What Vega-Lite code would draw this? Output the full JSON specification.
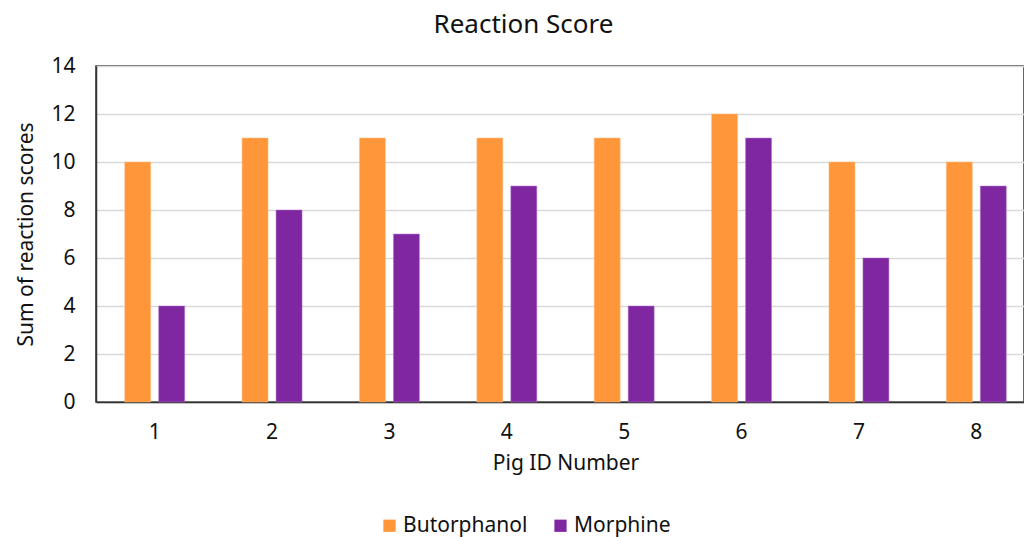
{
  "$schema": "https://vega.github.io/schema/vega-lite/v6.json",
  "width": 928,
  "height": 336,
  "autosize": {"type": "none"},
  "padding": {"left": 96, "top": 66, "right": 0, "bottom": 135},
  "background": "white",
  "config": {
    "font": "Noto Sans",
    "view": {"stroke": "#333333", "strokeWidth": 1.5},
    "axis": {"labelFont": "Noto Sans", "titleFont": "Noto Sans", "labelColor": "#111", "titleColor": "#111", "titleFontWeight": "normal"}
  },
  "title": {"text": "Reaction Score", "fontSize": 26, "fontWeight": "normal", "color": "#111", "offset": 17, "anchor": "middle", "frame": "bounds", "dx": -2},
  "data": {
    "values": [
      {"pig": "1", "drug": "Butorphanol", "score": 10},
      {"pig": "1", "drug": "Morphine", "score": 4},
      {"pig": "2", "drug": "Butorphanol", "score": 11},
      {"pig": "2", "drug": "Morphine", "score": 8},
      {"pig": "3", "drug": "Butorphanol", "score": 11},
      {"pig": "3", "drug": "Morphine", "score": 7},
      {"pig": "4", "drug": "Butorphanol", "score": 11},
      {"pig": "4", "drug": "Morphine", "score": 9},
      {"pig": "5", "drug": "Butorphanol", "score": 11},
      {"pig": "5", "drug": "Morphine", "score": 4},
      {"pig": "6", "drug": "Butorphanol", "score": 12},
      {"pig": "6", "drug": "Morphine", "score": 11},
      {"pig": "7", "drug": "Butorphanol", "score": 10},
      {"pig": "7", "drug": "Morphine", "score": 6},
      {"pig": "8", "drug": "Butorphanol", "score": 10},
      {"pig": "8", "drug": "Morphine", "score": 9}
    ]
  },
  "mark": {"type": "bar", "strokeWidth": 1, "strokeOpacity": 0.5},
  "encoding": {
    "x": {
      "field": "pig", "type": "nominal",
      "scale": {"range": [0, 939], "paddingInner": 0.489, "paddingOuter": 0.2445},
      "axis": {"title": "Pig ID Number", "labelAngle": 0, "labelFontSize": 21, "titleFontSize": 21, "ticks": false, "tickSize": 0, "labelPadding": 19, "titlePadding": 10, "domainColor": "#333333", "domainWidth": 1.5}
    },
    "xOffset": {"field": "drug", "type": "nominal", "scale": {"paddingInner": 0.235, "paddingOuter": 0}},
    "y": {
      "field": "score", "type": "quantitative",
      "scale": {"domain": [0, 14]},
      "axis": {"title": "Sum of reaction scores", "values": [0, 2, 4, 6, 8, 10, 12, 14], "labelFontSize": 21, "titleFontSize": 21, "ticks": false, "tickSize": 0, "labelPadding": 21, "titlePadding": 14, "gridColor": "#d9d9d9", "gridWidth": 1.5, "domainColor": "#333333", "domainWidth": 1.5}
    },
    "color": {
      "field": "drug", "type": "nominal",
      "scale": {"domain": ["Butorphanol", "Morphine"], "range": ["#FF9639", "#7F27A0"]},
      "legend": {"title": null, "orient": "none", "direction": "horizontal", "legendX": 283, "legendY": 449, "symbolType": "square", "symbolSize": 150, "symbolStrokeWidth": 0, "labelFontSize": 21, "labelColor": "#111", "columnPadding": 22, "labelOffset": 3}
    },
    "stroke": {
      "field": "drug", "type": "nominal",
      "scale": {"domain": ["Butorphanol", "Morphine"], "range": ["#FFC08A", "#B27ACB"]},
      "legend": null
    }
  }
}
